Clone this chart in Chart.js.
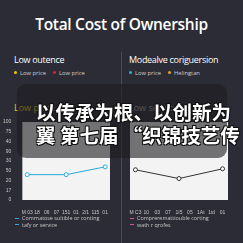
<!doctype html>
<html lang="en">
  <head>
    <meta charset="utf-8">
    <title>Total Cost of Ownership</title>
    <script src="https://cdn.jsdelivr.net/npm/chart.js"></script>
    <style>
      body { margin: 0; width: 243px; height: 243px; overflow: hidden; background: #2b2c36; position: relative; font-family: "Open Sans", sans-serif; color: #fff; }
      .abs { position: absolute; white-space: nowrap; }
      .title { left: 0; width: 243px; top: 13px; text-align: center; font-size: 15.5px; font-weight: 600; letter-spacing: -0.3px; }
      .head { top: 53px; font-size: 9px; letter-spacing: -0.3px; }
      .legend { top: 69px; font-size: 5.8px; color: #cfcfcf; }
      .dot { display: inline-block; width: 3px; height: 3px; border-radius: 50%; margin-right: 3px; vertical-align: 1px; }
      .gap { margin-left: 7px; }
      .sub { top: 101px; font-size: 9px; }
      .divider { left: 121px; top: 52px; width: 1px; height: 191px; background: #4a4b56; }
      .foot { font-size: 5.4px; color: #c8c8c8; line-height: 6.5px; }
      .dash { display: inline-block; width: 4px; height: 1px; margin-right: 3px; vertical-align: 1.5px; }
      .overlay { left: 17px; top: 84px; width: 210px; height: 74px; border-radius: 9px; background: rgba(28, 28, 32, 0.6); }
      .caption { left: 36px; top: 100px; font-family: "Noto Sans CJK SC", sans-serif; font-weight: 700; font-size: 19.5px; line-height: 23px; color: #fff;
        text-shadow: 1px 1px 0 #111, -1px -1px 0 #111, 1px -1px 0 #111, -1px 1px 0 #111; }
    </style>
  </head>
  <body>
    <div class="abs title">Total Cost of Ownership</div>
    <div class="abs divider"></div>

    <div class="abs head" style="left:14px">Low outence</div>
    <div class="abs legend" style="left:14px"><span class="dot" style="background:#f5c400"></span>Low price<span class="dot gap" style="background:#e0203a"></span>Low price</div>
    <div class="abs head" style="left:129px">Modealve coriguersion</div>
    <div class="abs legend" style="left:129px"><span class="dot" style="background:#22b5c9"></span>Low price<span class="dot gap" style="background:#f0a020"></span>Helingtan</div>

    <div class="abs sub" style="left:14px;color:#e8c820">Low price</div>
    <div class="abs sub" style="left:129px;color:#aaa">Low service</div>

    <div class="abs" style="left:0;top:112px;width:121px;height:106px"><canvas id="left"></canvas></div>
    <div class="abs" style="left:121px;top:112px;width:115px;height:106px"><canvas id="right"></canvas></div>

    <div class="abs foot" style="left:15px;top:215px">
      <div><span class="dash" style="background:#29a9e0"></span>Comrnatose suitible or conting</div>
      <div><span class="dash" style="background:#29a9e0"></span>tafy or service</div>
    </div>
    <div class="abs foot" style="left:130px;top:215px">
      <div><span class="dash" style="background:#d0579a"></span>Compreremattiouble corting</div>
      <div><span class="dash" style="background:#d0579a"></span>wath r qrofes</div>
    </div>

    <div class="abs overlay"></div>
    <div class="abs caption">以传承为根、以创新为<br>翼 第七届 “织锦技艺传</div>

  <script>
    const leftLabels = ['M 03', '18', '06', '07', '151', '01', '2/1', '115', '01'];
    const rightLabels = ['M C3', '10', '03', '07', '1I5', '05', '1At', '1td', '01'];
    const yTickLabels = ['0', '17', '20', '50', '30', '90', '40', '75', '100'];
    const leftValues = [2.6, null, null, null, 2.6, null, null, null, 3.4];
    const rightValues = [3.1, null, null, null, 2.2, null, null, null, 3.2];

    // white plot background
    const plotBg = {
      id: 'plotBg',
      beforeDraw(chart) {
        const a = chart.chartArea;
        chart.ctx.save();
        chart.ctx.fillStyle = '#f3f3f3';
        chart.ctx.fillRect(a.left, a.top, a.right - a.left, a.bottom - a.top);
        chart.ctx.restore();
      }
    };

    function makeChart(id, labels, values, color, showY) {
      return new Chart(document.getElementById(id), {
        type: 'line',
        data: {
          labels: labels,
          datasets: [{
            data: values,
            spanGaps: true,
            borderColor: color,
            borderWidth: 1,
            pointRadius: 2,
            pointBorderWidth: 1,
            pointBackgroundColor: '#fff',
            pointBorderColor: color,
            tension: 0
          }]
        },
        options: {
          responsive: true,
          maintainAspectRatio: false,
          animation: false,
          layout: { padding: { top: 10, right: showY ? 11 : 8, left: showY ? 0 : 9 } },
          scales: {
            x: {
              offset: true,
              grid: { display: false },
              border: { display: false },
              ticks: { color: '#c8c8c8', font: { size: 5 }, padding: 2, maxRotation: 0, autoSkip: false }
            },
            y: {
              display: showY,
              min: 0,
              max: 8,
              grid: { display: false },
              border: { display: false },
              ticks: { stepSize: 1, color: '#c8c8c8', font: { size: 5 }, padding: 3, callback: v => yTickLabels[v] }
            }
          },
          plugins: { legend: { display: false }, tooltip: { enabled: false } }
        },
        plugins: [plotBg]
      });
    }

    makeChart('left', leftLabels, leftValues, '#29a9e0', true);
    makeChart('right', rightLabels, rightValues, '#333', false);
  </script>
  </body>
</html>
